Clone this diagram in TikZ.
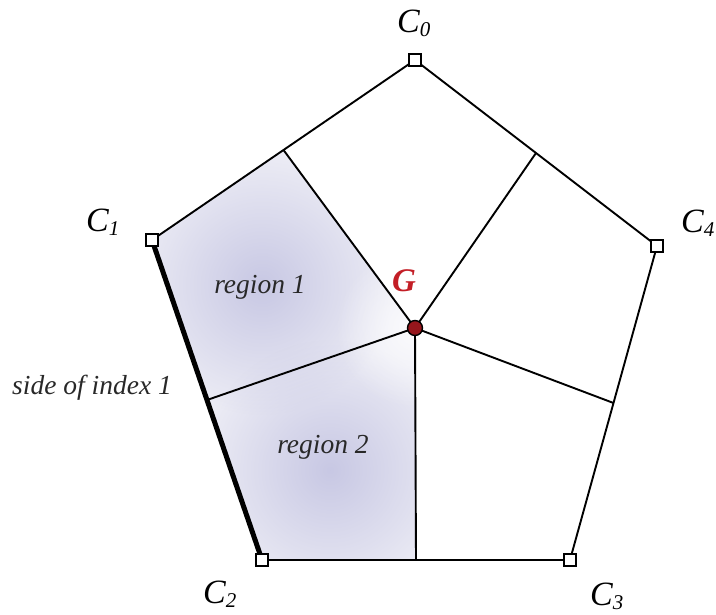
\documentclass[tikz,border=0pt]{standalone}
\usepackage{fontspec}
\setmainfont{Liberation Serif}
\usetikzlibrary{calc,fadings}
\tikzfading[name=blobfade,inner color=transparent!0,outer color=transparent!100]
\definecolor{lav}{RGB}{236,236,245}
\definecolor{lavd}{RGB}{196,196,226}
\definecolor{gred}{RGB}{195,30,38}
\definecolor{gdot}{RGB}{150,22,28}
\definecolor{txt}{RGB}{40,40,40}
\newcommand{\clab}[2]{\textit{{\fontsize{34}{34}\selectfont #1}\raisebox{-4pt}{\fontsize{21}{21}\selectfont #2}}}
\begin{document}
\begin{tikzpicture}[x=1pt,y=-1pt,
  vert/.style={draw=black,fill=white,line width=1.8pt,minimum size=12.5pt,inner sep=0pt,rectangle},
  edge/.style={line width=1.9pt,line join=round},
  lab/.style={inner sep=0pt,anchor=base west,text=black},
  rtext/.style={inner sep=0pt,text=txt,font=\fontsize{27.5}{27.5}\selectfont\itshape}]
\useasboundingbox (0,0) rectangle (716,615);
\coordinate (c0) at (415,60);
\coordinate (c1) at (152,240);
\coordinate (c2) at (262,560);
\coordinate (c3) at (570,560);
\coordinate (c4) at (657,246);
\coordinate (g) at (415,328);
\coordinate (m01) at ($(c0)!0.5!(c1)$);
\coordinate (m12) at ($(c1)!0.5!(c2)$);
\coordinate (m23) at ($(c2)!0.5!(c3)$);
\coordinate (m34) at ($(c3)!0.5!(c4)$);
\coordinate (m40) at ($(c4)!0.5!(c0)$);
% shading
\begin{scope}
  \clip (c1) -- (m01) -- (g) -- (m23) -- (c2) -- cycle;
  \fill[lav] (0,0) rectangle (716,615);
  \fill[lavd,path fading=blobfade,opacity=0.9] (262,285) circle (130);
  \fill[lavd,path fading=blobfade,opacity=0.9] (330,470) circle (130);
  \fill[white,path fading=blobfade,opacity=0.8] (g) circle (80);
\end{scope}
% inner edges
\draw[edge] (g) -- (m01);
\draw[edge] (g) -- (m12);
\draw[edge] (g) -- (m23);
\draw[edge] (g) -- (m34);
\draw[edge] (g) -- (m40);
% pentagon
\draw[edge] (c0) -- (c1);
\draw[edge] (c2) -- (c3) -- (c4) -- (c0);
\draw[line width=5pt] (c1) -- (c2);
% vertices
\node[vert] (v0) at (c0) {};
\node[vert] (v1) at (c1) {};
\node[vert] (v2) at (c2) {};
\node[vert] (v3) at (c3) {};
\node[vert] (v4) at (c4) {};
\fill[gdot,draw=black,line width=1.4pt] (g) circle (7.5);
% labels
\node[lab] (l0) at (397,33) {\clab{C}{0}};
\node[lab] (l1) at (86,232) {\clab{C}{1}};
\node[lab] (l2) at (203,603) {\clab{C}{2}};
\node[lab] (l3) at (590,605) {\clab{C}{3}};
\node[lab] (l4) at (681,233) {\clab{C}{4}};
\node[lab,text=gred,font=\fontsize{33}{33}\selectfont\bfseries\itshape] (lg) at (392,292) {G};
\node[rtext] (r1) at (260,287) {region 1};
\node[rtext] (r2) at (323,447) {region 2};
\node[rtext,anchor=base west] (side) at (12,394) {side of index 1};
\end{tikzpicture}
\end{document}
